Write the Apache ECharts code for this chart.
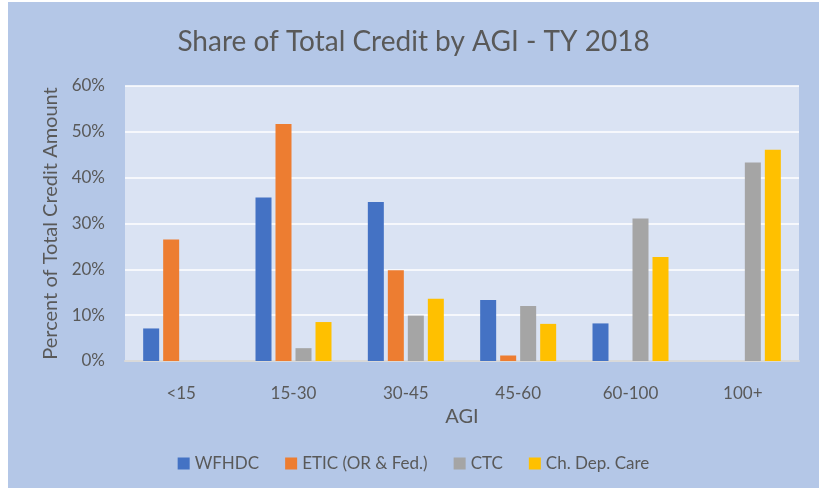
<!DOCTYPE html>
<html>
<head>
<meta charset="utf-8">
<script src="https://cdn.jsdelivr.net/npm/echarts@6/dist/echarts.min.js"></script>
<style>
    html, body { margin: 0; padding: 0; background: #ffffff; }
    #chart { position: absolute; left: 8px; top: 2px; width: 811px; height: 486px; background: #b4c7e7; }
</style>
</head>
<body>
<div id="chart"></div>
<script>
(function() {
"use strict";

    // 数据
    var categories = ['<15', '15-30', '30-45', '45-60', '60-100', '100+'];
    var seriesNames = ['WFHDC', 'ETIC (OR & Fed.)', 'CTC', 'Ch. Dep. Care'];
    var wfhdc = [7.1, 35.7, 34.7, 13.3, 8.2, 0];
    var etic = [26.5, 51.7, 19.8, 1.2, 0, 0];
    var ctc = [0, 2.8, 9.9, 12.0, 31.1, 43.3];
    var chDepCare = [0, 8.5, 13.6, 8.1, 22.7, 46.1];
    var colors = ['#4472c4', '#ed7d31', '#a5a5a5', '#ffc000'];

    var textColor = '#595959';
    var font = 'Lato, "Open Sans", sans-serif';

    var allData = [wfhdc, etic, ctc, chDepCare];
    var series = [];
    for (var i = 0; i < allData.length; i++) {
        series.push({
            name: seriesNames[i],
            type: 'bar',
            data: allData[i],
            barWidth: 16,
            barGap: '25%',
            itemStyle: { color: colors[i] }
        });
    }

    var myChart = echarts.init(document.getElementById('chart'));
    var option = {
        backgroundColor: '#b4c7e7',
        animation: false,
        title: {
            text: 'Share of Total Credit by AGI - TY 2018',
            left: 'center',
            top: 21,
            textStyle: {
                color: textColor,
                fontFamily: font,
                fontWeight: 'normal',
                fontSize: 28
            }
        },
        legend: {
            data: seriesNames,
            top: 448,
            left: 'center',
            itemWidth: 12,
            itemHeight: 12,
            itemGap: 26,
            icon: 'rect',
            textStyle: {
                color: textColor,
                fontFamily: font,
                fontSize: 17
            }
        },
        grid: {
            left: 117,
            right: 20,
            top: 84,
            bottom: 127,
            show: true,
            backgroundColor: '#dae3f3',
            borderWidth: 0
        },
        xAxis: {
            type: 'category',
            data: categories,
            name: 'AGI',
            nameLocation: 'middle',
            nameGap: 41,
            nameTextStyle: {
                color: textColor,
                fontFamily: font,
                fontSize: 20
            },
            axisLine: { lineStyle: { color: '#d9d9d9', width: 2 } },
            axisTick: { show: false },
            axisLabel: {
                color: textColor,
                fontFamily: font,
                fontSize: 17,
                margin: 24
            }
        },
        yAxis: {
            type: 'value',
            min: 0,
            max: 60,
            interval: 10,
            name: 'Percent of Total Credit Amount',
            nameLocation: 'middle',
            nameGap: 63,
            nameTextStyle: {
                color: textColor,
                fontFamily: font,
                fontSize: 20
            },
            axisLine: { show: false },
            axisTick: { show: false },
            splitLine: { lineStyle: { color: '#ffffff', width: 1.5 } },
            axisLabel: {
                formatter: '{value}%',
                color: textColor,
                fontFamily: font,
                fontSize: 17,
                margin: 20
            }
        },
        series: series
    };
    myChart.setOption(option);
})();
</script>
</body>
</html>
